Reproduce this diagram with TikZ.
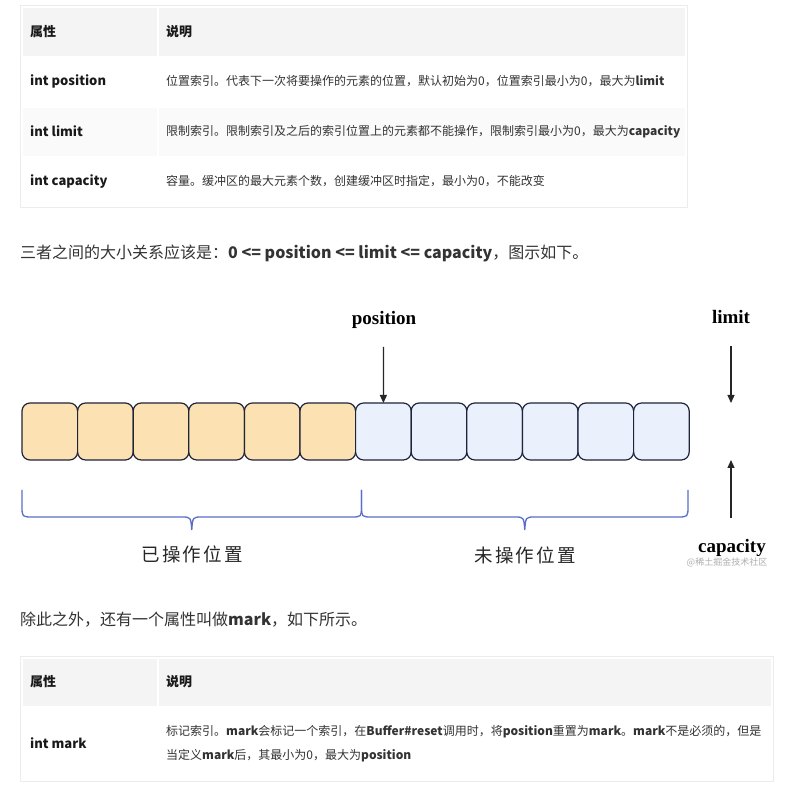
\documentclass[tikz,border=0pt]{standalone}
\usepackage{fontspec}
\setmainfont{Noto Sans CJK SC}
\newfontfamily\labelfont{Liberation Serif}
\newfontfamily\spacedfont{Noto Sans CJK SC}[LetterSpace=12]
\usetikzlibrary{positioning,arrows.meta}
\definecolor{bodytext}{RGB}{51,51,51}
\definecolor{tabline}{RGB}{236,236,236}
\definecolor{headfill}{RGB}{244,244,244}
\definecolor{rowfill}{RGB}{250,250,250}
\definecolor{usedfill}{RGB}{252,226,178}
\definecolor{freefill}{RGB}{234,241,253}
\definecolor{cellline}{RGB}{30,36,58}
\definecolor{bracecolor}{RGB}{88,110,200}
\definecolor{markgray}{RGB}{175,175,175}

\begin{document}
\begin{tikzpicture}[x=1pt, y=-1pt,
  txt/.style={anchor=west, inner sep=0pt, text=bodytext, font=\fontsize{12}{14}\selectfont},
  head/.style={txt, text=black!90, font=\fontsize{13}{15}\selectfont\bfseries},
  para/.style={anchor=west, inner sep=0pt, text=bodytext, font=\fontsize{16}{19}\selectfont},
  cell/.style={rectangle, rounded corners=8pt, draw=cellline, line width=1.2pt,
    minimum width=55.6pt, minimum height=57pt, anchor=north west,
    inner sep=0pt, outer sep=0pt},
  used/.style={cell, fill=usedfill},
  free/.style={cell, fill=freefill},
  ptr/.style={-{Triangle[length=8pt,width=7pt]}, line width=1.2pt, draw=black!85},
  brace/.style={draw=bracecolor, line width=1.3pt},
  tag/.style={inner sep=0pt, anchor=base,
    font=\labelfont\fontsize{19}{22}\selectfont\bfseries},
  zone/.style={inner sep=0pt, text=black!85,
    font=\spacedfont\fontsize{18.5}{21}\selectfont},
]
  \fill[white] (0,0) rectangle (801,791);
  \useasboundingbox (0,0) rectangle (801,791);

  % === TABLE (position / limit / capacity) ===
  \draw[tabline, fill=white] (20.5,5.5) rectangle (687.5,207.5);
  \fill[headfill] (23,8) rectangle (157,56);
  \fill[headfill] (159,8) rectangle (685,56);
  \fill[rowfill] (23,108) rectangle (157,156);
  \fill[rowfill] (159,108) rectangle (685,156);

  \node[head] (h-attr) at (30,32) {属性};
  \node[head] (h-desc) at (166,32) {说明};
  \node[head] (k-pos) at (30,81.5) {int position};
  \node[txt] (d-pos) at (166,81.5)
    {位置索引。代表下一次将要操作的元素的位置，默认初始为0，位置索引最小为0，最大为\textbf{limit}};
  \node[head] (k-lim) at (30,131.5) {int limit};
  \node[txt] (d-lim) at (166,131.5)
    {限制索引。限制索引及之后的索引位置上的元素都不能操作，限制索引最小为0，最大为\textbf{capacity}};
  \node[head] (k-cap) at (30,181.5) {int capacity};
  \node[txt] (d-cap) at (166,181.5)
    {容量。缓冲区的最大元素个数，创建缓冲区时指定，最小为0，不能改变};

  \node[para] (p-rel) at (20,253)
    {三者之间的大小关系应该是：\textbf{0 <= position <= limit <= capacity}，图示如下。};

  % === BUFFER ===
  \foreach \i in {0,...,5} {
    \node[used] (box\i) at ({22+55.6*\i},403) {};
  }
  \foreach \i in {6,...,11} {
    \node[free] (box\i) at ({22+55.6*\i},403) {};
  }

  % Pointers
  \node[tag] (position) at (384,325) {position};
  \node[tag] (limit) at (731,324) {limit};
  \node[tag] (capacity) at (732,552) {capacity};
  \coordinate (pos-tail) at (383.4,347);
  \coordinate (lim-tail) at (731,346);
  \coordinate (lim-head) at (731,403);
  \coordinate (cap-tail) at (731,518);
  \coordinate (cap-head) at (731,460);
  \draw[ptr] (pos-tail) -- (box6.north);
  \draw[ptr] (lim-tail) -- (lim-head);
  \draw[ptr] (cap-tail) -- (cap-head);

  % Braces
  \foreach \a/\b in {22/361.5, 361.5/688} {
    \pgfmathsetmacro\m{(\a+\b)/2}
    \draw[brace] (\a,490) -- (\a,506) .. controls (\a,517) .. (\a+11,517)
      -- (\m-10,517) .. controls (\m-1,517) .. (\m,530)
      .. controls (\m+1,517) .. (\m+10,517)
      -- (\b-11,517) .. controls (\b,517) .. (\b,506) -- (\b,490);
  }
  \node[zone] (done) at (192,554) {已操作位置};
  \node[zone] (todo) at (525,555) {未操作位置};
  \node[inner sep=0pt, text=markgray, font=\fontsize{9}{10}\selectfont]
    (wm) at (727,562) {@稀土掘金技术社区};

  \node[para] (p-mark) at (20,620)
    {除此之外，还有一个属性叫做\textbf{mark}，如下所示。};

  % === TABLE (mark) ===
  \draw[tabline, fill=white] (20.5,656.5) rectangle (773.5,781.5);
  \fill[headfill] (23,659) rectangle (157,706);
  \fill[headfill] (159,659) rectangle (771,706);
  \node[head] (h2-attr) at (30,682) {属性};
  \node[head] (h2-desc) at (166,682) {说明};
  \node[head] (k-mark) at (30,743.5) {int mark};
  \node[txt] (d-mark1) at (166,731.5)
    {标记索引。\textbf{mark}会标记一个索引，在\textbf{Buffer\#reset}调用时，将\textbf{position}重置为\textbf{mark}。\textbf{mark}不是必须的，但是};
  \node[txt] (d-mark2) at (166,755.5)
    {当定义\textbf{mark}后，其最小为0，最大为\textbf{position}};
\end{tikzpicture}
\end{document}
